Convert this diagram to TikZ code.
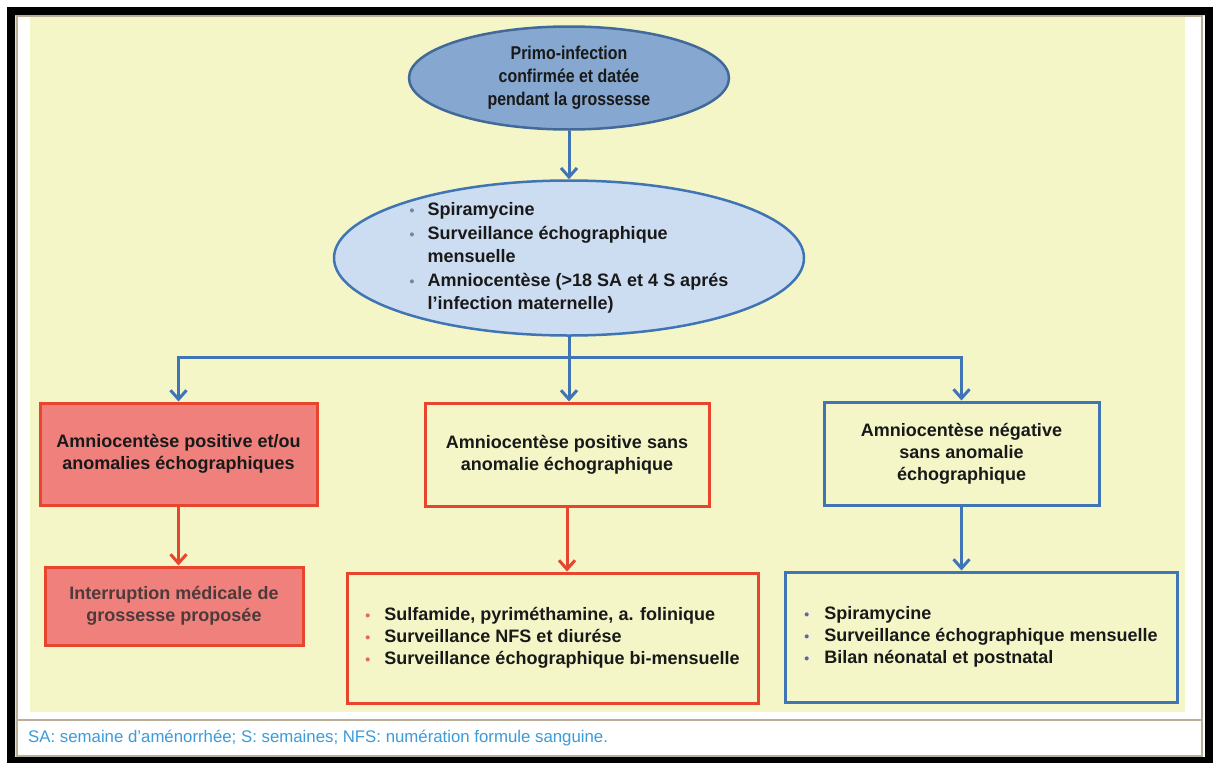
\documentclass[tikz,border=0pt]{standalone}
\usepackage{fontspec}
\setmainfont{Liberation Sans}
\newfontfamily\narrowsans[FakeStretch=0.86]{Liberation Sans}
\usetikzlibrary{shapes.geometric,arrows.meta}

\definecolor{panel}{HTML}{F4F6C8}
\definecolor{frametan}{HTML}{B9AE98}
\definecolor{topblue}{HTML}{86A7CF}
\definecolor{topline}{HTML}{41699A}
\definecolor{lightblue}{HTML}{CCDDF1}
\definecolor{midblue}{HTML}{3F74B5}
\definecolor{boxred}{HTML}{E8452E}
\definecolor{redfill}{HTML}{F0807C}
\definecolor{captionblue}{HTML}{3A9CD9}
\definecolor{impgray}{HTML}{4E3A3A}
\definecolor{bulletred}{HTML}{E26A4E}
\definecolor{bulletblue}{HTML}{5E63A8}
\definecolor{bulletgray}{HTML}{6F86A8}

\newcommand{\itm}[2][18pt]{\makebox[#1][l]{\color{#2}\fontsize{14}{14}\selectfont\textbullet}}

\tikzset{
  txt/.style={font=\fontsize{18}{22}\selectfont\bfseries, text=black!90},
  oval/.style={ellipse, draw, line width=2.5pt, txt},
  redbox/.style={rectangle, draw=boxred, line width=3pt, txt, align=center},
  bluebox/.style={rectangle, draw=midblue, line width=3pt, txt, align=center},
  bluearrow/.style={draw=midblue, line width=3pt, -{Straight Barb[length=9pt,width=16pt]}},
  redarrow/.style={draw=boxred, line width=3pt, -{Straight Barb[length=9pt,width=16pt]}}
}

\begin{document}
\begin{tikzpicture}[x=1pt,y=-1pt]
  \useasboundingbox (0,0) rectangle (1213,763);
  \fill[white] (0,0) rectangle (1213,763);
  \fill[black, even odd rule] (7,7) rectangle (1213,763) (15,15) rectangle (1205,757);
  \fill[panel] (30,17) rectangle (1185,712);
  \draw[frametan, line width=2pt] (17,16) rectangle (1202,756);
  \draw[frametan, line width=2pt] (17,720) -- (1202,720);

  \node[oval, fill=topblue, draw=topline, minimum width=320pt, minimum height=103pt, align=center,
        font=\narrowsans\fontsize{18.5}{23}\selectfont\bfseries] (prim) at (569,78)
       {Primo-infection\\confirmée et datée\\pendant la grossesse};
  \node[oval, fill=lightblue, draw=midblue, minimum width=470pt, minimum height=155pt,
        inner xsep=0pt, inner ysep=-6pt, align=left, font=\fontsize{18}{23.5}\selectfont\bfseries] (treat) at (569,258)
       {\itm{bulletgray}Spiramycine\\
        \itm{bulletgray}Surveillance échographique\\
        \hspace*{18pt}mensuelle\\
        \itm{bulletgray}Amniocentèse (>18 SA et 4 S aprés\\
        \hspace*{18pt}l'infection maternelle)};

  \node[redbox, fill=redfill, minimum width=277pt, minimum height=102pt] (pos) at (178.5,454)
       {Amniocentèse positive et/ou\\anomalies échographiques};
  \node[redbox, minimum width=284pt, minimum height=103pt] (possans) at (567,454.5)
       {Amniocentèse positive sans\\anomalie échographique};
  \node[bluebox, minimum width=275pt, minimum height=103pt] (neg) at (961.5,453.5)
       {Amniocentèse négative\\sans anomalie\\échographique};

  \node[redbox, fill=redfill, minimum width=258pt, minimum height=78pt, text=impgray] (imp) at (174,606)
       {Interruption médicale de\\grossesse proposée};
  \node[redbox, minimum width=411pt, minimum height=130pt, align=left] (sulf) at (552.5,638)
       {\itm[19pt]{bulletred}Sulfamide, pyriméthamine, a. folinique\\
        \itm[19pt]{bulletred}Surveillance NFS et diurése\\
        \itm[19pt]{bulletred}Surveillance échographique bi-mensuelle};
  \node[bluebox, minimum width=392pt, minimum height=130pt, align=left] (spir) at (981,637)
       {\itm[20pt]{bulletblue}Spiramycine\\
        \itm[20pt]{bulletblue}Surveillance échographique mensuelle\\
        \itm[20pt]{bulletblue}Bilan néonatal et postnatal};

  \coordinate (split) at (569,357);
  \draw[bluearrow] (prim.south) -- (treat.north);
  \draw[bluearrow] (treat.south) -- (treat.south |- possans.north);
  \draw[bluearrow] (split) -| (pos.north);
  \draw[bluearrow] (split) -| (neg.north);
  \draw[redarrow] (pos.south) -- (pos.south |- imp.north);
  \draw[redarrow] (possans.south) -- (possans.south |- sulf.north);
  \draw[bluearrow] (neg.south) -- (neg.south |- spir.north);

  \node[anchor=west, inner sep=0pt, text=captionblue, font=\fontsize{16.8}{18}\selectfont] (note) at (28,738)
       {SA: semaine d'aménorrhée; S: semaines; NFS: numération formule sanguine.};
\end{tikzpicture}
\end{document}
